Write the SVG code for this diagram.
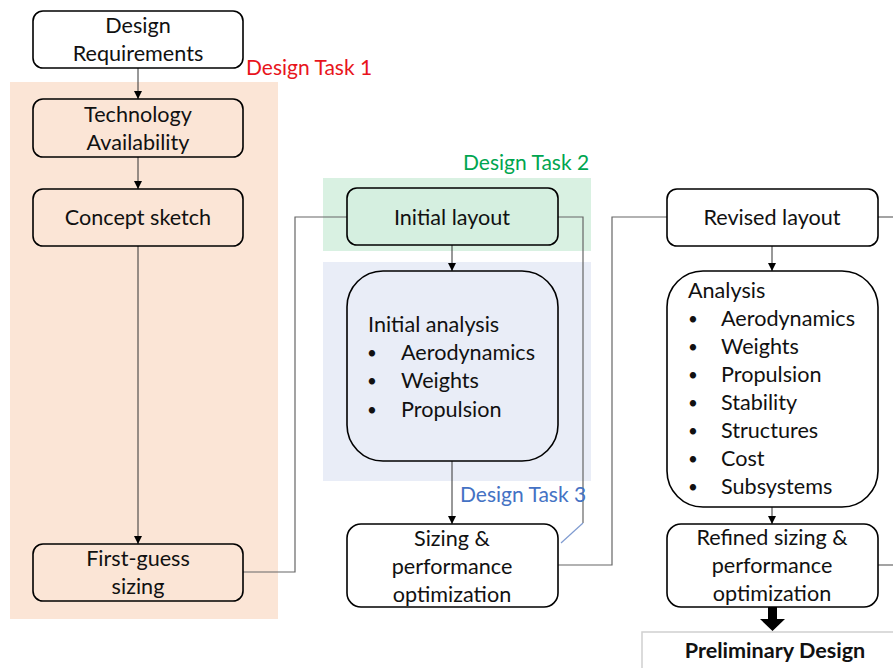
<svg xmlns="http://www.w3.org/2000/svg" width="893" height="668" viewBox="0 0 893 668">
<defs>
<marker id="ah" markerWidth="10" markerHeight="10" refX="9" refY="5" orient="auto" markerUnits="userSpaceOnUse">
<path d="M1,1 L9,5 L1,9 Z" fill="#000"/>
</marker>
<style>
text{font-family:Lato,"Liberation Sans",sans-serif;font-size:21.6px;fill:#111;}
.c{text-anchor:middle;}
.bu{font-size:17px;}
.box{stroke:#000;stroke-width:1.6;}
.w{fill:#fff;}
.o{fill:#fbe5d6;}
.g{fill:#d5efe0;}
.b{fill:#e9edf7;}
.ln{fill:none;stroke:#666;stroke-width:1.2;}
.ar{fill:none;stroke:#333;stroke-width:1;marker-end:url(#ah);}
.lbl{font-size:21px;}
</style>
</defs>
<rect width="893" height="668" fill="#fff"/>
<g id="backgrounds">
<rect x="10" y="82" width="268" height="537" fill="#fbe5d6"/>
<rect x="323" y="178" width="268" height="73" fill="#d9f1e2"/>
<rect x="323" y="262" width="268" height="219" fill="#e9edf7"/>
</g>
<g id="connectors">
<path class="ln" d="M243,572 H295 V217 H347"/>
<path class="ln" d="M558,217 H583 V523"/>
<path d="M583,523 L561,543" fill="none" stroke="#7f9bd0" stroke-width="1.2"/>
<path class="ln" d="M558,565 H612 V217 H667"/>
<path class="ln" d="M878,217 H893"/>
<path class="ln" d="M878,565 H893"/>
<path class="ar" d="M138,68 V99"/>
<path class="ar" d="M138,157 V189"/>
<path class="ar" d="M138,246 V544"/>
<path class="ar" d="M452,245 V271"/>
<path class="ar" d="M452,461 V524"/>
<path class="ar" d="M772,246 V271"/>
<path class="ar" d="M772,507 V524"/>
<path d="M768,607 H777 V619 H785 L772.5,631 L760,619 H768 Z" fill="#000"/>
</g>
<g id="n-req"><rect class="box w" x="33" y="11" width="210" height="57" rx="10"/>
<text class="c" x="138" y="33">Design</text><text class="c" x="138" y="61">Requirements</text></g>
<g id="lbl-task1"><text class="lbl" x="246" y="75" style="fill:#e8141c">Design Task 1</text></g>
<g id="n-tech"><rect class="box o" x="33" y="99" width="210" height="58" rx="10"/>
<text class="c" x="138" y="122">Technology</text><text class="c" x="138" y="150">Availability</text></g>
<g id="n-concept"><rect class="box o" x="33" y="189" width="210" height="57" rx="10"/>
<text class="c" x="138" y="225">Concept sketch</text></g>
<g id="n-first"><rect class="box o" x="33" y="544" width="210" height="57" rx="10"/>
<text class="c" x="138" y="566">First-guess</text><text class="c" x="138" y="594">sizing</text></g>
<g id="lbl-task2"><text class="lbl" x="463" y="170" style="fill:#00a550">Design Task 2</text></g>
<g id="n-initial"><rect class="box g" x="347" y="188" width="211" height="57" rx="10"/>
<text class="c" x="452" y="225">Initial layout</text></g>
<g id="n-ianalysis"><rect class="box b" x="347" y="271" width="211" height="190" rx="36"/>
<text x="368" y="332">Initial analysis</text>
<text class="bu" x="367" y="359">•</text><text x="401" y="360">Aerodynamics</text>
<text class="bu" x="367" y="387">•</text><text x="401" y="388">Weights</text>
<text class="bu" x="367" y="416">•</text><text x="401" y="417">Propulsion</text></g>
<g id="lbl-task3"><text class="lbl" x="460" y="502" style="fill:#4472c4">Design Task 3</text></g>
<g id="n-sizing"><rect class="box w" x="347" y="524" width="211" height="83" rx="14"/>
<text class="c" x="452" y="546">Sizing &amp;</text><text class="c" x="452" y="574">performance</text><text class="c" x="452" y="602">optimization</text></g>
<g id="n-revised"><rect class="box w" x="667" y="189" width="211" height="57" rx="10"/>
<text class="c" x="772" y="225">Revised layout</text></g>
<g id="n-analysis"><rect class="box w" x="667" y="271" width="211" height="236" rx="36"/>
<text x="688" y="298">Analysis</text>
<text class="bu" x="688" y="325">•</text><text x="721" y="326">Aerodynamics</text>
<text class="bu" x="688" y="353">•</text><text x="721" y="354">Weights</text>
<text class="bu" x="688" y="381">•</text><text x="721" y="382">Propulsion</text>
<text class="bu" x="688" y="409">•</text><text x="721" y="410">Stability</text>
<text class="bu" x="688" y="437">•</text><text x="721" y="438">Structures</text>
<text class="bu" x="688" y="465">•</text><text x="721" y="466">Cost</text>
<text class="bu" x="688" y="493">•</text><text x="721" y="494">Subsystems</text></g>
<g id="n-refined"><rect class="box w" x="667" y="524" width="211" height="83" rx="14"/>
<text class="c" x="772" y="545">Refined sizing &amp;</text><text class="c" x="772" y="573">performance</text><text class="c" x="772" y="601">optimization</text></g>
<g id="n-prelim"><rect x="642" y="632" width="260" height="50" fill="#fff" stroke="#d0d0d0" stroke-width="1.5"/>
<text class="c" x="775" y="658" style="font-weight:bold">Preliminary Design</text></g>
</svg>
